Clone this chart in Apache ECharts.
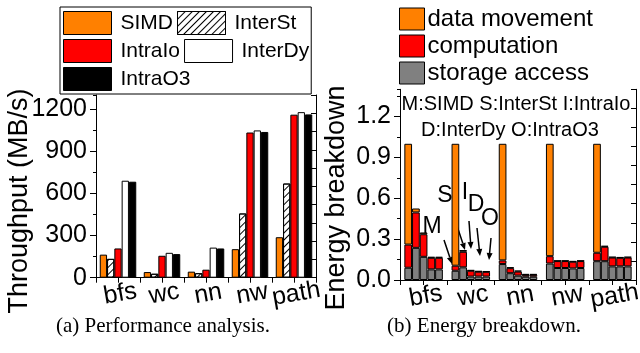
<!DOCTYPE html>
<html>
<head>
<meta charset="utf-8">
<script src="https://cdn.jsdelivr.net/npm/echarts@6/dist/echarts.min.js"></script>
<style>
  html, body { margin: 0; padding: 0; background: #fff; }
  #main { width: 640px; height: 353px; }
</style>
</head>
<body>
<div id="main"></div>
<script>
// categories (both panels)
var cats = ['bfs', 'wc', 'nn', 'nw', 'path'];

// (a) throughput, MB/s
var perfNames = ['SIMD', 'InterSt', 'IntraIo', 'InterDy', 'IntraO3'];
var simd    = [164, 40, 43, 203, 288];
var interSt = [134, 28, 32, 457, 670];
var intraIo = [208, 156, 57, 1033, 1160];
var interDy = [690, 177, 214, 1048, 1178];
var intraO3 = [683, 168, 208, 1037, 1162];

// (b) energy breakdown, rows = M S I D O, cols = bfs wc nn nw path
var energyNames = ['data movement', 'computation', 'storage access'];
var variants = ['M', 'S', 'I', 'D', 'O'];
var storageAccess = [
    [0.090, 0.068, 0.117, 0.121, 0.138],
    [0.236, 0.093, 0.050, 0.088, 0.138],
    [0.170, 0.025, 0.032, 0.088, 0.100],
    [0.078, 0.025, 0.024, 0.085, 0.100],
    [0.078, 0.025, 0.024, 0.088, 0.100]
];
var computation = [
    [0.170, 0.037, 0.027, 0.054, 0.062],
    [0.260, 0.114, 0.037, 0.051, 0.106],
    [0.166, 0.043, 0.030, 0.051, 0.065],
    [0.085, 0.036, 0.014, 0.049, 0.063],
    [0.085, 0.035, 0.014, 0.051, 0.065]
];
var dataMovement = [
    [0.740, 0.895, 0.856, 0.825, 0.800],
    [0.029, 0.013, 0.007, 0.004, 0.007],
    [0.013, 0.005, 0.007, 0.004, 0.005],
    [0.007, 0.005, 0.006, 0.005, 0.005],
    [0.007, 0.005, 0.006, 0.004, 0.005]
];

var FONT = '"Liberation Sans", Arial, sans-serif';
var hatch = {
    symbol: 'rect', symbolSize: 1, color: '#000',
    dashArrayX: [1, 0], dashArrayY: [1, 4], rotation: -Math.PI / 4
};

function barStyle(color, decal) {
    var s = { color: color, borderColor: '#000', borderWidth: 1 };
    if (decal) s.decal = decal;
    return s;
}

function tickAxis(gridIndex, position, max, interval, len, inside, showLine) {
    return {
        type: 'value', gridIndex: gridIndex, position: position,
        min: 0, max: max, interval: interval,
        axisLine: { show: showLine, lineStyle: { color: '#000', width: 1 } },
        axisTick: { show: true, inside: inside, length: len, lineStyle: { color: '#000' } },
        axisLabel: { show: false }, splitLine: { show: false }
    };
}

function catAxis(gridIndex) {
    return {
        type: 'category', gridIndex: gridIndex, data: cats, position: 'bottom',
        axisLine: { show: true, lineStyle: { color: '#000', width: 1 } },
        axisTick: { show: false },
        axisLabel: {
            interval: 0, rotate: 10, align: 'center', verticalAlign: 'top', margin: 4,
            color: '#000', fontSize: 25, fontFamily: FONT
        },
        splitLine: { show: false }
    };
}

function valAxis(gridIndex, max, interval, fmt) {
    return {
        type: 'value', gridIndex: gridIndex, position: 'left', min: 0, max: max, interval: interval,
        axisLine: { show: true, lineStyle: { color: '#000', width: 1 } },
        axisTick: { show: true, length: 6, lineStyle: { color: '#000' } },
        axisLabel: { color: '#000', fontSize: 25, fontFamily: FONT, margin: 9, showMaxLabel: false, formatter: fmt },
        splitLine: { show: false }
    };
}

var perfColors = ['#ff8000', '#fff', '#ff0000', '#fff', '#000'];
var perfData = [simd, interSt, intraIo, interDy, intraO3];
var series = [];
perfNames.forEach(function (n, i) {
    series.push({
        name: n, type: 'bar', xAxisIndex: 0, yAxisIndex: 0,
        data: perfData[i], barWidth: 7.3, barGap: '0%',
        itemStyle: barStyle(perfColors[i], n == 'InterSt' ? hatch : null)
    });
});

// stacked energy bars: gray bottom, red, orange on top
variants.forEach(function (v, i) {
    [[storageAccess, 'storage access', '#808080'],
     [computation, 'computation', '#ff0000'],
     [dataMovement, 'data movement', '#ff8000']].forEach(function (p) {
        series.push({
            name: p[1], type: 'bar', stack: v, xAxisIndex: 3, yAxisIndex: 3,
            data: p[0][i], barWidth: 7.7, barGap: '0%',
            itemStyle: barStyle(p[2])
        });
    });
});

// arrow annotations (pixel positions)
var notes = [
    { t: 'M', x: 432, y: 227, a: [444, 240, 452, 264] },
    { t: 'S', x: 445, y: 196, a: [454, 217, 465, 250] },
    { t: 'I', x: 465, y: 193, a: [469, 221, 471, 249] },
    { t: 'D', x: 476, y: 205, a: [477, 228, 480, 256] },
    { t: 'O', x: 490, y: 219, a: [491, 238, 489, 260] }
];
var graphics = [];
function txt(s, x, y, size, font, rot) {
    return {
        type: 'text', x: x, y: y, rotation: rot || 0,
        style: { text: s, font: size + 'px ' + font, fill: '#000', textAlign: 'center', textVerticalAlign: 'middle' }
    };
}
notes.forEach(function (n) {
    graphics.push(txt(n.t, n.x, n.y, 23, FONT));
    var x1 = n.a[0], y1 = n.a[1], x2 = n.a[2], y2 = n.a[3];
    var dx = x2 - x1, dy = y2 - y1, L = Math.sqrt(dx * dx + dy * dy);
    var ux = dx / L, uy = dy / L, hl = 7, hw = 3;
    graphics.push({ type: 'line', shape: { x1: x1, y1: y1, x2: x2 - ux * hl, y2: y2 - uy * hl }, style: { stroke: '#000', lineWidth: 1.5 } });
    graphics.push({
        type: 'polygon',
        shape: { points: [[x2, y2], [x2 - ux * hl - uy * hw, y2 - uy * hl + ux * hw], [x2 - ux * hl + uy * hw, y2 - uy * hl - ux * hw]] },
        style: { fill: '#000' }
    });
});
graphics.push(txt('M:SIMD S:InterSt I:IntraIo', 516, 104, 20, FONT));
graphics.push(txt('D:InterDy O:IntraO3', 510, 130, 20, FONT));
graphics.push(txt('Throughput (MB/s)', 20, 201, 27, FONT, Math.PI / 2));
graphics.push(txt('Energy breakdown', 337, 198, 27, FONT, Math.PI / 2));
graphics.push(txt('(a) Performance analysis.', 163, 326, 21, '"Liberation Serif", serif'));
graphics.push(txt('(b) Energy breakdown.', 484, 326, 21, '"Liberation Serif", serif'));

var option = {
    animation: false,
    backgroundColor: '#fff',
    textStyle: { fontFamily: FONT },
    grid: [
        { left: 96, top: 95, width: 220, height: 182.7, outerBoundsMode: 'none', containLabel: false },
        { left: 400, top: 89.3, width: 236, height: 190.7, outerBoundsMode: 'none', containLabel: false }
    ],
    legend: [
        {
            data: perfNames, left: 60, top: 7, width: 260, orient: 'horizontal',
            itemWidth: 48, itemHeight: 23, itemGap: 4, icon: 'rect',
            padding: [4, 2, 3, 3], borderColor: '#000', borderWidth: 1, backgroundColor: '#fff',
            itemStyle: { borderColor: '#000', borderWidth: 1 },
            textStyle: { color: '#000', fontSize: 21, fontFamily: FONT, padding: [0, 3, 0, 4] }
        },
        {
            data: energyNames, left: 399, top: 7, orient: 'vertical',
            itemWidth: 25, itemHeight: 22, itemGap: 3, icon: 'rect', padding: 0,
            itemStyle: { borderColor: '#000', borderWidth: 1 },
            textStyle: { color: '#000', fontSize: 24, fontFamily: FONT, padding: [0, 0, 0, -2] }
        }
    ],
    xAxis: [
        catAxis(0),
        tickAxis(0, 'bottom', 10, 1, 4, false, false),
        tickAxis(0, 'top', 10, 1, 5, true, true),
        catAxis(1),
        tickAxis(1, 'bottom', 10, 1, 4, false, false),
        tickAxis(1, 'top', 10, 1, 5, true, true)
    ],
    yAxis: [
        valAxis(0, 1300, 300, function (v) { return String(v); }),
        tickAxis(0, 'left', 1300, 150, 3, false, false),
        tickAxis(0, 'right', 10, 1, 5, true, true),
        valAxis(1, 1.4, 0.3, function (v) { return v.toFixed(1); }),
        tickAxis(1, 'left', 1.4, 0.15, 3, false, false),
        tickAxis(1, 'right', 10, 1, 5, true, true)
    ],
    series: series,
    graphic: graphics
};

var chart = echarts.init(document.getElementById('main'), null, { renderer: 'canvas' });
chart.setOption(option);
</script>
</body>
</html>
